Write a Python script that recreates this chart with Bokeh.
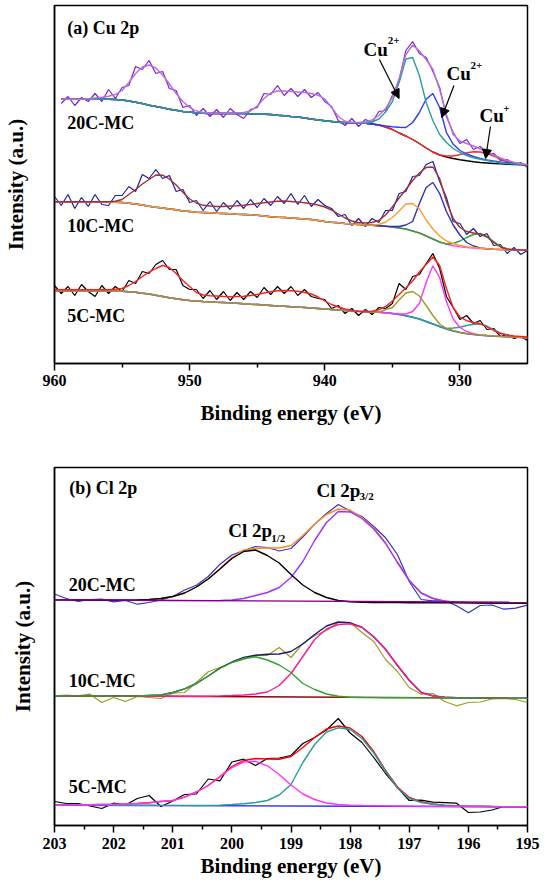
from bokeh.plotting import figure
from bokeh.models import Range1d, FixedTicker, Arrow, NormalHead, ColumnDataSource
from bokeh.layouts import column
from bokeh.embed import file_html
from bokeh.resources import INLINE
from bokeh.core.properties import value

# ======================= DATA : (a) Cu 2p =======================
cu_energy = [960.0, 959.5, 959.0, 958.5, 958.0, 957.5, 957.0, 956.5, 956.0, 955.5,
             955.0, 954.5, 954.0, 953.5, 953.0, 952.5, 952.0, 951.5, 951.0, 950.5,
             950.0, 949.5, 949.0, 948.5, 948.0, 947.5, 947.0, 946.5, 946.0, 945.5,
             945.0, 944.5, 944.0, 943.5, 943.0, 942.5, 942.0, 941.5, 941.0, 940.5,
             940.0, 939.5, 939.0, 938.5, 938.0, 937.5, 937.0, 936.5, 936.0, 935.5,
             935.0, 934.5, 934.0, 933.5, 933.0, 932.5, 932.0, 931.5, 931.0, 930.5,
             930.0, 929.5, 929.0, 928.5, 928.0, 927.5, 927.0, 926.5, 926.0, 925.5, 925.0]
cu_ticks = [960, 950, 940, 930]
cu_minor_ticks = [955, 945, 935]

# 20C-MC (recorded from 959.5 eV)
cu20_energy = cu_energy[1:]
cu20_raw = [260, 267, 258, 266, 262, 270, 262, 274, 265,
            276, 278, 297, 294, 303, 290, 292, 275, 273, 256,
            258, 248, 255, 247, 254, 246, 255, 249, 245, 254,
            256, 270, 269, 278, 268, 275, 267, 274, 266, 271,
            262, 257, 243, 238, 245, 237, 244, 241, 252, 253,
            268, 283, 313, 322, 310, 306, 292, 276, 247, 231,
            220, 224, 214, 217, 210, 210, 203, 204, 199, 201, 196]
cu20_env = [264.3, 264.3, 264.3, 264.3, 264.8, 265.5, 266.3, 267.3, 269,
            273, 281, 290, 296.5, 298.5, 295.5, 288.5, 279.5, 270, 262,
            256, 252.5, 251, 250.5, 250.3, 250.3, 250.5, 250.7, 251, 252.5,
            257.5, 265, 270.5, 272.5, 272.5, 272, 271.5, 271, 270, 268.3,
            264.5, 256, 247, 242.3, 241.3, 241, 241.5, 243.5, 248, 255,
            266, 285, 309, 318.5, 312.5, 304, 294, 274, 249, 229,
            222.5, 220, 217.5, 214.5, 211.5, 208.5, 205.5, 203, 201.2, 199.8, 198.8]
cu20_bg = [264.3, 264.3, 264.3, 264.3, 264.3, 264.3, 264.3, 264.2, 264,
           263.5, 262.5, 261.3, 260, 258.3, 257, 255.7, 254.3, 253.3, 252,
           251.5, 250.5, 250.2, 250, 250, 250, 250, 250, 250, 249.7,
           249.5, 249.3, 249, 248.3, 247.7, 247, 246.5, 245.5, 244.5, 243.5,
           242.7, 242, 241.3, 241, 240.7, 240.5, 240.3, 239.5, 238.5, 236.5,
           234, 230.5, 227.5, 224, 220, 215.5, 211.5, 208.5, 206.5, 205,
           203.8, 202.7, 201.8, 201, 200.5, 200, 199.6, 199.2, 198.9, 198.6, 198.3]
cu20_cu2a = [264.3, 264.3, 264.3, 264.3, 264.3, 264.3, 264.3, 264.2, 264,
             263.5, 262.5, 261.3, 260, 258.3, 257, 255.7, 254.3, 253.3, 252,
             251.5, 250.5, 250.2, 250, 250, 250, 250, 250, 250, 249.7,
             249.5, 249.3, 249, 248.3, 247.7, 247, 246.5, 245.5, 244.5, 243.5,
             242.7, 242, 241.3, 241, 240.7, 240.5, 240.3, 241.5, 244.5, 251.5,
             262, 281, 304.5, 306, 288, 261, 242.7, 229, 221, 215,
             211, 208, 205.7, 204.3, 203, 201.8, 200.8, 200, 199.5, 199, 198.7]
cu20_cu2b = [264.3, 264.3, 264.3, 264.3, 264.3, 264.3, 264.3, 264.2, 264,
             263.5, 262.5, 261.3, 260, 258.3, 257, 255.7, 254.3, 253.3, 252,
             251.5, 250.5, 250.2, 250, 250, 250, 250, 250, 250, 249.7,
             249.5, 249.3, 249, 248.3, 247.7, 247, 246.5, 245.5, 244.5, 243.5,
             242.7, 242, 241.3, 241, 240.7, 240.5, 240.3, 239.5, 238.5, 237.5,
             236.8, 236.3, 236, 241, 251, 264.3, 270, 256, 231, 219.3,
             213, 209.5, 207, 205, 203.5, 202.5, 201.6, 201, 200, 199.3, 198.8]
cu20_cu1 = [264.3, 264.3, 264.3, 264.3, 264.3, 264.3, 264.3, 264.2, 264,
            263.5, 262.5, 261.3, 260, 258.3, 257, 255.7, 254.3, 253.3, 252,
            251.5, 250.5, 250.2, 250, 250, 250, 250, 250, 250, 249.7,
            249.5, 249.3, 249, 248.3, 247.7, 247, 246.5, 245.5, 244.5, 243.5,
            242.7, 242, 241.3, 241, 240.7, 240.5, 240.3, 239.5, 238.5, 236.5,
            234, 230.5, 227.5, 224, 220, 215.5, 211.5, 208.5, 207.5, 207.5,
            208.8, 210.7, 211.8, 211.5, 210, 207.5, 204.6, 201.7, 200.1, 199.1, 198.5]

# 10C-MC
cu10_raw = [167, 158, 169, 155, 166, 157, 169, 159, 158, 168,
            168, 177, 172, 189, 185, 194, 185, 188, 172, 174,
            161, 163, 153, 162, 152, 161, 154, 163, 155, 164,
            156, 165, 158, 167, 160, 170, 159, 168, 157, 164,
            158, 155, 147, 149, 138, 145, 137, 145, 141, 153,
            153, 170, 172, 187, 188, 199, 202, 182, 166, 142,
            140, 129, 135, 127, 130, 118, 119, 110, 116, 109, 113]
cu10_env = [161.7, 161.7, 161.7, 161.7, 161.7, 161.7, 161.7, 161.7, 161.8, 162.3,
            164, 169, 174, 179.5, 184, 188.5, 188.3, 184.5, 178.5, 171.3,
            164.5, 160.5, 158.2, 157.5, 157, 157, 157.5, 157.8, 158.3, 159,
            160, 160.7, 161.5, 162.3, 162.5, 162, 161.5, 160.7, 159.8, 158.5,
            156.5, 153.5, 149.5, 145.5, 142.5, 141, 140.5, 141, 143, 148.5,
            156.5, 165.5, 174, 183, 190.5, 196, 196.5, 185, 162, 145,
            136, 132, 130.5, 129.5, 126.5, 121, 116.5, 114.5, 113.8, 113.5, 113.3]
cu10_bg = [161.7, 161.7, 161.7, 161.7, 161.7, 161.7, 161.7, 161.6, 161.5, 161.3,
           161, 160.3, 159.5, 158.5, 157.3, 156.3, 155.5, 154.5, 153.7, 152.5,
           152, 151.3, 151, 150.7, 150.3, 150, 149.7, 149.3, 149, 148.7,
           148.3, 147.5, 146.7, 146.2, 146, 145.5, 145, 144.5, 144, 143,
           142, 141.3, 140.7, 140, 139.5, 139, 138.5, 138.2, 137.8, 137.2,
           136.5, 135.5, 134.5, 132.5, 130.5, 127.5, 124.5, 121.5, 119.3, 117.8,
           116.8, 116, 115.4, 114.9, 114.5, 114.2, 114, 113.8, 113.6, 113.4, 113.2]
cu10_cu2a = [161.7, 161.7, 161.7, 161.7, 161.7, 161.7, 161.7, 161.6, 161.5, 161.3,
             161, 160.3, 159.5, 158.5, 157.3, 156.3, 155.5, 154.5, 153.7, 152.5,
             152, 151.3, 151, 150.7, 150.3, 150, 149.7, 149.3, 149, 148.7,
             148.3, 147.5, 146.7, 146.2, 146, 145.5, 145, 144.5, 144, 143,
             142, 141.3, 140.7, 140, 139.5, 139, 138.5, 138.3, 139, 141.5,
             146, 152.5, 159.5, 160, 154.5, 143.5, 134.5, 127.5, 122.5, 120,
             118, 116.8, 116, 115.3, 114.7, 114.3, 114, 113.8, 113.5, 113.3, 113.2]
cu10_cu2b = [161.7, 161.7, 161.7, 161.7, 161.7, 161.7, 161.7, 161.6, 161.5, 161.3,
             161, 160.3, 159.5, 158.5, 157.3, 156.3, 155.5, 154.5, 153.7, 152.5,
             152, 151.3, 151, 150.7, 150.3, 150, 149.7, 149.3, 149, 148.7,
             148.3, 147.5, 146.7, 146.2, 146, 145.5, 145, 144.5, 144, 143,
             142, 141.3, 140.7, 140, 139.5, 139, 138.5, 138.2, 137.8, 137.3,
             137, 137, 138.5, 142, 160, 176, 181, 170, 152, 138.5,
             128.5, 121, 117.5, 115.5, 114.7, 114.2, 114, 113.7, 113.5, 113.3, 113.2]
cu10_cu1 = [161.7, 161.7, 161.7, 161.7, 161.7, 161.7, 161.7, 161.6, 161.5, 161.3,
            161, 160.3, 159.5, 158.5, 157.3, 156.3, 155.5, 154.5, 153.7, 152.5,
            152, 151.3, 151, 150.7, 150.3, 150, 149.7, 149.3, 149, 148.7,
            148.3, 147.5, 146.7, 146.2, 146, 145.5, 145, 144.5, 144, 143,
            142, 141.3, 140.7, 140, 139.5, 139, 138.5, 138.2, 137.8, 137.2,
            136.5, 135.5, 134.5, 132.5, 130.5, 127.5, 124.5, 121.5, 119.5, 120,
            122.5, 126, 129, 130, 127, 122, 117, 114.5, 113.8, 113.4, 113.2]

# 5C-MC
cu5_raw = [78, 70, 77, 68, 79, 72, 67, 78, 70, 77,
           72, 83, 80, 92, 90, 99, 103, 94, 94, 78,
           74, 74, 65, 73, 64, 72, 63, 71, 64, 72,
           66, 76, 69, 77, 70, 77, 68, 74, 67, 65,
           64, 55, 58, 50, 55, 48, 54, 49, 56, 55,
           60, 80, 74, 87, 89, 100, 110, 95, 67, 56,
           44, 48, 40, 43, 34, 35, 27, 29, 25, 27, 23]
cu5_env = [73.7, 73.7, 73.7, 73.7, 73.7, 73.7, 73.7, 73.7, 73.8, 74.2,
           75, 78, 82, 87, 91.3, 95, 98, 96, 90, 83,
           77, 71, 68.5, 67.7, 67.5, 67, 66.8, 67, 67.3, 68,
           69, 70.5, 71.8, 72.7, 73, 72.7, 72.3, 71, 69.5, 66.5,
           62.5, 59, 56.5, 54.5, 53, 52, 51.8, 52.3, 53.7, 57,
           62.5, 69, 75.5, 82.5, 91.5, 99, 106.5, 98, 75, 56,
           46.5, 42.8, 41, 40, 36.5, 33, 30, 28.5, 27.5, 27, 26.5]
cu5_bg = [72.7, 72.7, 72.7, 72.7, 72.7, 72.7, 72.7, 72.7, 72.7, 72.5,
          72.2, 71.8, 71.2, 70.3, 69.5, 68.2, 67, 65.8, 64.8, 63.7,
          63, 62.5, 62, 61.7, 61.3, 61, 60.6, 60.2, 59.8, 59.3,
          59, 58.5, 58, 57.5, 57.3, 56.8, 56.4, 56, 55.5, 55,
          54.5, 54, 53.5, 53, 52.7, 52.3, 52, 51.5, 51.2, 50.7,
          50, 49, 47.8, 46.3, 44.5, 42, 39.5, 37, 34.5, 32.5,
          31, 29.8, 29, 28.3, 27.8, 27.3, 27, 26.6, 26.3, 26, 25.7]
cu5_cu2a = [72.7, 72.7, 72.7, 72.7, 72.7, 72.7, 72.7, 72.7, 72.7, 72.5,
            72.2, 71.8, 71.2, 70.3, 69.5, 68.2, 67, 65.8, 64.8, 63.7,
            63, 62.5, 62, 61.7, 61.3, 61, 60.6, 60.2, 59.8, 59.3,
            59, 58.5, 58, 57.5, 57.3, 56.8, 56.4, 56, 55.5, 55,
            54.5, 54, 53.5, 53, 52.7, 52.3, 52, 51.5, 51.2, 54,
            56, 63.5, 70.5, 72, 67.5, 58, 48, 39.5, 35, 33,
            31.3, 30, 29.2, 28.5, 28, 27.5, 27.1, 26.7, 26.4, 26.1, 25.8]
cu5_cu2b = [72.7, 72.7, 72.7, 72.7, 72.7, 72.7, 72.7, 72.7, 72.7, 72.5,
            72.2, 71.8, 71.2, 70.3, 69.5, 68.2, 67, 65.8, 64.8, 63.7,
            63, 62.5, 62, 61.7, 61.3, 61, 60.6, 60.2, 59.8, 59.3,
            59, 58.5, 58, 57.5, 57.3, 56.8, 56.4, 56, 55.5, 55,
            54.5, 54, 53.5, 53, 52.7, 52.3, 52, 51.5, 51.2, 50.7,
            50, 49.5, 49.5, 52, 60, 81, 97.7, 86, 62, 44.5,
            36, 32, 29.8, 28.6, 28, 27.5, 27.1, 26.7, 26.4, 26.1, 25.8]
cu5_cu1 = [72.7, 72.7, 72.7, 72.7, 72.7, 72.7, 72.7, 72.7, 72.7, 72.5,
           72.2, 71.8, 71.2, 70.3, 69.5, 68.2, 67, 65.8, 64.8, 63.7,
           63, 62.5, 62, 61.7, 61.3, 61, 60.6, 60.2, 59.8, 59.3,
           59, 58.5, 58, 57.5, 57.3, 56.8, 56.4, 56, 55.5, 55,
           54.5, 54, 53.5, 53, 52.7, 52.3, 52, 51.5, 51.2, 50.7,
           50, 49, 47.8, 46.3, 44.5, 42, 39.5, 37, 35, 35.5,
           36.2, 38, 39.3, 39.2, 37.5, 34, 30.5, 28.3, 27, 26.3, 26]

# ======================= DATA : (b) Cl 2p =======================
cl_energy = [203.0, 202.8, 202.6, 202.4, 202.2, 202.0, 201.8, 201.6, 201.4, 201.2,
             201.0, 200.8, 200.6, 200.4, 200.2, 200.0, 199.8, 199.6, 199.4, 199.2,
             199.0, 198.8, 198.6, 198.4, 198.2, 198.0, 197.8, 197.6, 197.4, 197.2,
             197.0, 196.8, 196.6, 196.4, 196.2, 196.0, 195.8, 195.6, 195.4, 195.2, 195.0]
cl_ticks = [203, 202, 201, 200, 199, 198, 197, 196, 195]
cl_minor_ticks = [202.5, 201.5, 200.5, 199.5, 198.5, 197.5, 196.5, 195.5]
cl_bg_energy = [203.0, 195.0]

cl20_raw = [231.5, 227, 224, 226, 226.3, 223.7, 225, 221.3, 223, 225.5,
            229, 235.5, 240.3, 249, 261.3, 270.5, 275, 279, 278, 274.5,
            277, 288.5, 301.3, 312, 321, 314.5, 309, 299, 287.7, 271,
            244, 226, 224.7, 225, 219.7, 212.7, 220, 220.5, 216.3, 217.3, 220.3]
cl20_env = [225.7, 225.6, 225.5, 225.4, 225.3, 225.3, 225.4, 225.6, 226, 227,
            229, 232.5, 238.5, 246.7, 257, 268, 275.5, 277, 277.5, 277.5,
            280, 290, 301.5, 311, 316.5, 315.5, 308, 297.5, 282.5, 263.5,
            245.2, 232.7, 227.2, 224.5, 223.3, 222.9, 222.7, 222.6, 222.5, 222.4, 222.3]
cl20_p12 = [225.7, 225.6, 225.5, 225.4, 225.3, 225.3, 225.4, 225.6, 226, 227,
            229, 232.5, 238.5, 246.5, 256.5, 267, 274, 275.5, 270, 262.5,
            251, 240.5, 233, 228, 225, 223.7, 223.2, 223, 222.9, 222.9,
            222.8, 222.8, 222.7, 222.7, 222.6, 222.6, 222.5, 222.5, 222.4, 222.4, 222.3]
cl20_p32 = [225.7, 225.6, 225.5, 225.4, 225.3, 225.3, 225.2, 225.1, 225, 225,
            224.9, 224.9, 224.9, 224.9, 225, 225.5, 227, 230, 233, 238,
            248, 264, 285, 303, 314, 313.5, 307, 296.5, 282, 263,
            245, 232.5, 227, 224.3, 223.2, 222.8, 222.6, 222.5, 222.4, 222.4, 222.3]
cl20_bg = [225.7, 223.2]

cl10_raw = [129.7, 130.3, 129.7, 131.3, 123, 128, 124, 129, 128, 127,
            132.3, 133, 143, 153.7, 158, 163, 166, 170, 170, 178,
            168, 182, 190, 195, 203, 203, 193, 184, 166, 154,
            138, 131.3, 132, 124, 119.7, 123, 123.5, 126.5, 127, 126, 123]
cl10_env = [129.7, 129.6, 129.6, 129.5, 129.5, 129.4, 129.4, 129.5, 130, 130.5,
            133, 136.7, 142, 149.5, 157.5, 163.5, 168, 170.3, 171.3, 171.5,
            174, 181.5, 191, 199.5, 203.5, 202.7, 198.3, 188.7, 176.2, 160.2,
            145.2, 133.2, 129.6, 128.3, 127.8, 127.6, 127.5, 127.4, 127.4, 127.3, 127.3]
cl10_p12 = [129.7, 129.6, 129.6, 129.5, 129.5, 129.4, 129.4, 129.5, 130, 130.5,
            133, 136.7, 142, 149.5, 157, 163, 167, 168.7, 165.5, 160.5,
            153, 142, 136, 131.5, 129.2, 128.3, 128, 127.9, 127.8, 127.7,
            127.7, 127.6, 127.6, 127.5, 127.5, 127.5, 127.4, 127.4, 127.4, 127.3, 127.3]
cl10_p32 = [129.7, 129.6, 129.6, 129.5, 129.5, 129.4, 129.4, 129.3, 129.3, 129.2,
            129.2, 129.2, 129.2, 129.3, 129.6, 130, 130.5, 131.5, 133.5, 140,
            152, 169, 186, 196.5, 201, 201.7, 198, 188.5, 176, 160,
            145, 133, 129.5, 128.2, 127.8, 127.6, 127.5, 127.4, 127.4, 127.3, 127.3]
cl10_bg = [129.7, 127.3]

cl5_raw = [24, 22, 22, 19.5, 17, 22.3, 20.5, 27, 30, 19,
           24.5, 31, 31.5, 46.5, 44.7, 63.5, 66.3, 60, 67, 67.5,
           70, 82, 88, 95.5, 107, 92.5, 83, 68, 52, 38,
           25, 25.3, 23.3, 22.8, 22.3, 13, 13.5, 15.5, 19, 18.5, 18]
cl5_env = [20.5, 20.6, 20.7, 20.8, 21, 21.2, 21.5, 22, 22.8, 24,
           25, 28.3, 33.5, 40, 49, 59, 65, 67, 66.5, 66.3,
           69, 78, 88, 96.5, 99.5, 97.5, 89, 74, 55, 38.5,
           28, 23.7, 21.5, 20.2, 19.7, 19.4, 19.2, 19, 18.9, 18.8, 18.7]
cl5_p12 = [20.5, 20.6, 20.7, 20.8, 21, 21.2, 21.5, 22, 22.8, 24,
           25, 28.3, 33.5, 40, 48.5, 58, 63.5, 64.2, 59.7, 51,
           40.5, 31.5, 26, 22.5, 21, 20.3, 20, 19.8, 19.6, 19.5,
           19.4, 19.3, 19.2, 19.1, 19, 19, 18.9, 18.9, 18.8, 18.8, 18.7]
cl5_p32 = [20.5, 20.5, 20.4, 20.4, 20.4, 20.3, 20.3, 20.2, 20.2, 20.1,
           20.1, 20.1, 20, 20.1, 20.4, 21, 21.7, 23, 25, 30.5,
           41, 63, 81, 93.5, 97.7, 96, 87, 72.5, 54, 37.5,
           27, 23, 21.2, 20, 19.6, 19.3, 19.1, 19, 18.9, 18.8, 18.7]
cl5_bg = [20.3, 18.7]

sample_names = ["20C-MC", "10C-MC", "5C-MC"]

# ======================= STYLE / ANNOTATION PLACEMENT =======================
FONT = "Liberation Serif"
RAW_W = 1.2
FIT_W = 1.4

cu_title_pos = (959.05, 336)
cu_sample_x = 959.05
cu_sample_y = [241, 137.7, 47.7]
cu_species = ["Cu", "Cu", "Cu"]
cu_species_x = [937.13, 931.0, 928.55]
cu_species_y = [314.5, 290.5, 248.5]
cu_sup = ["2+", "2+", "+"]
cu_sup_x = [935.35, 929.22, 926.8]
cu_sup_y = [323, 298, 255]
cu_arrows = [((935.96, 304), (934.5, 265)),
             ((930.44, 278), (931.35, 246)),
             ((927.74, 237), (928.1, 205))]

cl_title_pos = (202.75, 338)
cl_sample_x = 202.76
cl_sample_y = [241, 145, 39]
cl_species_x = [200.06, 198.57]
cl_species_y = [294.7, 335.5]
cl_sub = ["1/2", "3/2"]
cl_sub_x = [199.335, 197.84]
cl_sub_y = [288, 330]


def make_panel(x_start, x_end, w, h, b_left, b_right, b_top, b_bottom,
               major, minor, lab_standoff, title_standoff, ytitle_standoff):
    p = figure(width=w, height=h, x_range=Range1d(x_start, x_end), y_range=Range1d(0, 358),
               output_backend="svg", toolbar_location=None,
               min_border_left=b_left, min_border_right=b_right,
               min_border_top=b_top, min_border_bottom=b_bottom)
    p.xgrid.visible = False
    p.ygrid.visible = False
    p.outline_line_color = "black"
    p.outline_line_width = 1.5
    p.outline_line_alpha = 1.0

    ax = p.xaxis[0]
    ax.ticker = FixedTicker(ticks=major, minor_ticks=minor)
    ax.axis_label = "Binding energy (eV)"
    ax.axis_label_text_font = FONT
    ax.axis_label_text_font_style = "bold"
    ax.axis_label_text_font_size = "21px"
    ax.axis_label_text_color = "black"
    ax.axis_label_standoff = title_standoff
    ax.major_label_text_font = FONT
    ax.major_label_text_font_style = "bold"
    ax.major_label_text_font_size = "16px"
    ax.major_label_text_color = "black"
    ax.major_label_standoff = lab_standoff
    ax.axis_line_color = "black"
    ax.axis_line_width = 1.5
    ax.major_tick_in = 0
    ax.major_tick_out = 7
    ax.minor_tick_in = 0
    ax.minor_tick_out = 4
    ax.major_tick_line_color = "black"
    ax.minor_tick_line_color = "black"
    ax.major_tick_line_width = 1.5
    ax.minor_tick_line_width = 1.5

    ay = p.yaxis[0]
    ay.ticker = FixedTicker(ticks=[], minor_ticks=[])
    ay.major_tick_out = 0
    ay.major_tick_in = 0
    ay.minor_tick_out = 0
    ay.minor_tick_in = 0
    ay.major_label_standoff = 0
    ay.axis_line_color = "black"
    ay.axis_line_width = 1.5
    ay.axis_label = "Intensity (a.u.)"
    ay.axis_label_text_font = FONT
    ay.axis_label_text_font_style = "bold"
    ay.axis_label_text_font_size = "21px"
    ay.axis_label_text_color = "black"
    ay.axis_label_standoff = ytitle_standoff
    return p


def add_text(p, xs, ys, texts, size):
    src = ColumnDataSource(dict(x=xs, y=ys, text=texts))
    p.text(x="x", y="y", text="text", source=src, text_font=value(FONT),
           text_font_style="bold", text_font_size=size, text_color="black",
           text_align="left", text_baseline="middle")


# ======================= PANEL (a) =======================
pa = make_panel(960, 925, 541, 432, 54, 8, 5, 69, cu_ticks, cu_minor_ticks, 4, 12, 27)

pa.line(cu20_energy, cu20_raw, line_color="#7A1FE6", line_width=RAW_W)
pa.line(cu20_energy, cu20_bg, line_color="#000000", line_width=FIT_W)
pa.line(cu20_energy, cu20_cu1, line_color="#FF2626", line_width=FIT_W)
pa.line(cu20_energy, cu20_cu2b, line_color="#2B3BFF", line_width=FIT_W)
pa.line(cu20_energy, cu20_cu2a, line_color="#2A9D9D", line_width=FIT_W)
pa.line(cu20_energy, cu20_env, line_color="#B870D8", line_width=FIT_W)

pa.line(cu_energy, cu10_raw, line_color="#1F1FA8", line_width=RAW_W)
pa.line(cu_energy, cu10_bg, line_color="#FF4DFF", line_width=FIT_W)
pa.line(cu_energy, cu10_cu1, line_color="#2FA32F", line_width=FIT_W)
pa.line(cu_energy, cu10_cu2b, line_color="#2F2FB8", line_width=FIT_W)
pa.line(cu_energy, cu10_cu2a, line_color="#FF9A2E", line_width=FIT_W)
pa.line(cu_energy, cu10_env, line_color="#A03232", line_width=FIT_W)

pa.line(cu_energy, cu5_raw, line_color="#000000", line_width=RAW_W)
pa.line(cu_energy, cu5_bg, line_color="#2B3BFF", line_width=FIT_W)
pa.line(cu_energy, cu5_cu1, line_color="#2A9D9D", line_width=FIT_W)
pa.line(cu_energy, cu5_cu2b, line_color="#FF33FF", line_width=FIT_W)
pa.line(cu_energy, cu5_cu2a, line_color="#9C9C22", line_width=FIT_W)
pa.line(cu_energy, cu5_env, line_color="#FF1F1F", line_width=FIT_W)

add_text(pa, [cu_title_pos[0]], [cu_title_pos[1]], ["(a) Cu 2p"], "18px")
add_text(pa, [cu_sample_x] * 3, cu_sample_y, sample_names, "18px")
add_text(pa, cu_species_x, cu_species_y, cu_species, "19px")
add_text(pa, cu_sup_x, cu_sup_y, cu_sup, "11px")
for (xs, ys), (xe, ye) in cu_arrows:
    pa.add_layout(Arrow(end=NormalHead(size=9, fill_color="black", line_color="black", line_width=1),
                        x_start=xs, y_start=ys, x_end=xe, y_end=ye,
                        line_color="black", line_width=1.2))

# ======================= PANEL (b) =======================
pb = make_panel(203, 195, 541, 448, 45, 14, 35, 55, cl_ticks, cl_minor_ticks, 5, 2, 20)

pb.line(cl_energy, cl20_raw, line_color="#3333CC", line_width=RAW_W)
pb.line(cl_energy, cl20_env, line_color="#FF8C1A", line_width=FIT_W)
pb.line(cl_energy, cl20_p32, line_color="#9933FF", line_width=FIT_W)
pb.line(cl_energy, cl20_p12, line_color="#000000", line_width=FIT_W)
pb.line(cl_bg_energy, cl20_bg, line_color="#800080", line_width=FIT_W)

pb.line(cl_energy, cl10_raw, line_color="#9C9C22", line_width=RAW_W)
pb.line(cl_bg_energy, cl10_bg, line_color="#8B0000", line_width=FIT_W)
pb.line(cl_energy, cl10_env, line_color="#1A1A7A", line_width=FIT_W)
pb.line(cl_energy, cl10_p32, line_color="#FF1A8C", line_width=FIT_W)
pb.line(cl_energy, cl10_p12, line_color="#2FA32F", line_width=FIT_W)

pb.line(cl_energy, cl5_raw, line_color="#000000", line_width=RAW_W)
pb.line(cl_bg_energy, cl5_bg, line_color="#1A1AFF", line_width=FIT_W)
pb.line(cl_energy, cl5_env, line_color="#FF0000", line_width=FIT_W)
pb.line(cl_energy, cl5_p32, line_color="#2A9D9D", line_width=FIT_W)
pb.line(cl_energy, cl5_p12, line_color="#FF33FF", line_width=FIT_W)

add_text(pb, [cl_title_pos[0]], [cl_title_pos[1]], ["(b) Cl 2p"], "18px")
add_text(pb, [cl_sample_x] * 3, cl_sample_y, sample_names, "18px")
add_text(pb, cl_species_x, cl_species_y, ["Cl 2p", "Cl 2p"], "19px")
add_text(pb, cl_sub_x, cl_sub_y, cl_sub, "11px")

layout = column(pa, pb)
open("out.html", "w").write(file_html(layout, INLINE, title="Cu 2p and Cl 2p XPS"))
